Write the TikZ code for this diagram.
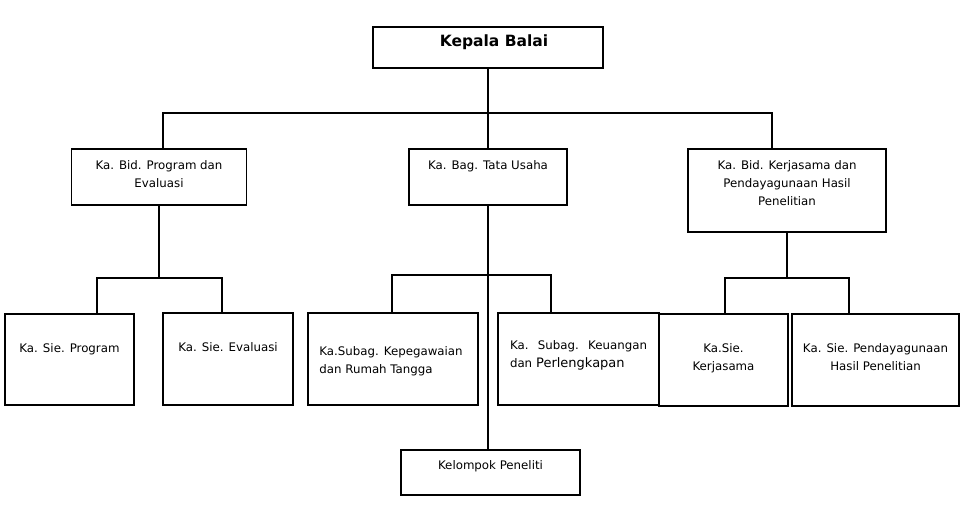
\documentclass[tikz,border=0pt]{standalone}
\usepackage{fontspec}
\setmainfont{DejaVu Sans}
\usetikzlibrary{positioning}

\begin{document}
\begin{tikzpicture}[
  x=1pt, y=-1pt,
  box/.style={draw, line width=1.05pt, inner sep=0pt},
  txt/.style={anchor=north, align=center, font=\fontsize{11.8}{18}\selectfont, inner sep=0pt},
  ln/.style={line width=1.05pt}
]
\useasboundingbox (0,0) rectangle (960,504);

% top
\node[box, minimum width=230pt, minimum height=41pt,
  label={[txt, font=\fontsize{15.5}{17}\selectfont\bfseries, yshift=-8pt, xshift=6pt]north:Kepala Balai}] (kb) at (488,47.5) {};

% level 1
\node[box, minimum width=175pt, minimum height=56pt,
  label={[txt, yshift=-12pt]north:Ka. Bid. Program dan\\Evaluasi}] (prog) at (159,177) {};
\node[box, minimum width=158pt, minimum height=56pt,
  label={[txt, yshift=-12pt]north:Ka. Bag. Tata Usaha}] (tu) at (488,177) {};
\node[box, minimum width=198pt, minimum height=83pt,
  label={[txt, yshift=-12pt]north:Ka. Bid. Kerjasama dan\\Pendayagunaan Hasil\\Penelitian}] (kjs) at (787,190.5) {};

% level 2
\node[box, minimum width=129pt, minimum height=91pt,
  label={[txt, yshift=-30pt]north:Ka. Sie. Program}] (sprog) at (69.5,359.5) {};
\node[box, minimum width=130pt, minimum height=92pt,
  label={[txt, yshift=-30pt]north:Ka. Sie. Evaluasi}] (seval) at (228,359) {};
\node[box, minimum width=170pt, minimum height=92pt,
  label={[txt, align=left, yshift=-34pt, xshift=-2pt]north:Ka.Subag. Kepegawaian\\dan Rumah Tangga}] (speg) at (393,359) {};
\node[box, minimum width=161pt, minimum height=92pt,
  label={[txt, align=left, text width=137pt, yshift=-28pt]north:Ka.\hfill Subag.\hfill Keuangan\\dan {\fontsize{13}{18}\selectfont Perlengkapan}}] (skeu) at (578.5,359) {};
\node[box, minimum width=129pt, minimum height=92pt,
  label={[txt, yshift=-30pt]north:Ka.Sie.\\Kerjasama}] (skjs) at (723.5,360) {};
\node[box, minimum width=167pt, minimum height=92pt,
  label={[txt, yshift=-30pt]north:Ka. Sie. Pendayagunaan\\Hasil Penelitian}] (sphp) at (875.5,360) {};

% bottom
\node[box, minimum width=179pt, minimum height=45pt,
  label={[txt, yshift=-11pt]north:Kelompok Peneliti}] (kp) at (490.5,472.5) {};

% connectors
\coordinate (bus0) at (488,113);
\draw[ln] (kb) -- (bus0) -- (tu);
\draw[ln] (bus0) -| ([xshift=4pt]prog.north);
\draw[ln] (bus0) -| ([xshift=-15pt]kjs.north);

\coordinate (bus1) at (159,278);
\draw[ln] (prog) -- (bus1);
\draw[ln] (bus1) -| ([xshift=27.5pt]sprog.north);
\draw[ln] (bus1) -| ([xshift=-6pt]seval.north);

\coordinate (bus2) at (488,275);
\draw[ln] (tu) -- (bus2) -- (kp.north -| bus2);
\draw[ln] (bus2) -| ([xshift=-1pt]speg.north);
\draw[ln] (bus2) -| ([xshift=-27.5pt]skeu.north);

\coordinate (bus3) at (787,278);
\draw[ln] (kjs) -- (bus3);
\draw[ln] (bus3) -| ([xshift=1.5pt]skjs.north);
\draw[ln] (bus3) -| ([xshift=-26.5pt]sphp.north);
\end{tikzpicture}
\end{document}
